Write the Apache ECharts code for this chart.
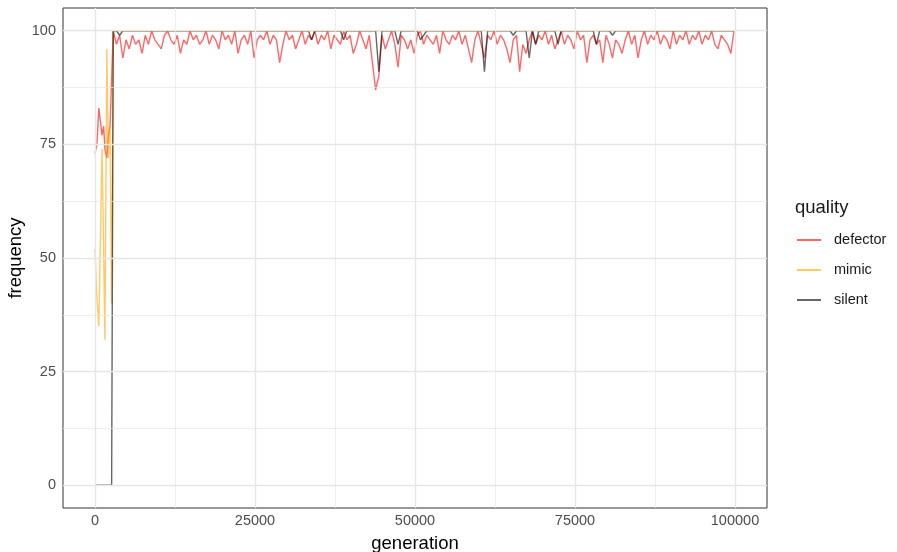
<!DOCTYPE html>
<html>
<head>
<meta charset="utf-8">
<script src="https://cdn.jsdelivr.net/npm/echarts@6.0.0/dist/echarts.min.js"></script>
<style>
html,body{margin:0;padding:0;background:#fff;}
#chart{width:897px;height:552px;}
</style>
</head>
<body>
<div id="chart"></div>
<script>
//数据
var qualities = ["defector", "mimic", "silent"];
var colors = ["rgba(255,0,0,0.6)", "rgba(255,165,0,0.6)", "rgba(0,0,0,0.6)"];

// first few samples, before everything hits 100
var earlyGen = [0, 300, 600, 1100, 1350, 1550, 1850, 2100, 2350, 2600];
var defectorEarly = [73, 75, 83, 77, 79, 74, 72, 77, 79, 79];
var mimicEarly = [52, 41, 35, 74, 52, 32, 96, 72, 79, 40];
var silentEarly = [0, 0, 0, 0, 0, 0, 0, 0, 0, 0];

// then one sample every 500 generations
var genStart = 2850;
var genStep = 500;
var defectorMain = [
	100, 97, 99, 94, 98, 96, 99, 97, 98, 95,
	99, 97, 100, 98, 97, 96, 99, 100, 98, 97,
	99, 95, 98, 97, 100, 98, 99, 97, 98, 100,
	97, 99, 98, 96, 100, 98, 99, 97, 100, 95,
	98, 99, 97, 100, 94, 98, 99, 98, 100, 97,
	99, 98, 93, 97, 100, 98, 99, 96, 98, 100,
	97, 99, 98, 100, 97, 99, 98, 100, 96, 99,
	98, 97, 100, 98, 99, 95, 97, 100, 98, 96,
	99, 93, 87, 90, 99, 96, 98, 100, 97, 92,
	99, 98, 96, 98, 95, 99, 100, 97, 99, 98,
	97, 99, 95, 100, 98, 97, 99, 98, 100, 97,
	99, 96, 93, 98, 100, 97, 94, 99, 98, 100,
	97, 99, 98, 96, 93, 98, 99, 91, 97, 95,
	98, 100, 97, 99, 98, 100, 97, 99, 96, 98,
	100, 97, 99, 98, 96, 100, 98, 99, 93, 98,
	99, 97, 98, 93, 99, 97, 94, 98, 97, 95,
	98, 100, 97, 99, 94, 98, 100, 97, 99, 98,
	100, 97, 99, 98, 96, 100, 97, 99, 98, 100,
	97, 99, 98, 100, 97, 99, 98, 100, 97, 96,
	99, 98, 97, 95, 100
];
var mimicMain = [
	100, 100, 100, 100, 100, 100, 100, 100, 100, 100,
	100, 100, 100, 100, 100, 100, 100, 100, 100, 100,
	100, 100, 100, 100, 100, 100, 100, 100, 100, 100,
	100, 100, 100, 100, 100, 100, 100, 100, 100, 100,
	100, 100, 100, 100, 100, 100, 100, 100, 100, 100,
	100, 100, 100, 100, 100, 100, 100, 100, 100, 100,
	100, 100, 100, 100, 100, 100, 100, 100, 100, 100,
	100, 100, 100, 100, 100, 100, 100, 100, 100, 100,
	100, 100, 100, 100, 100, 100, 100, 100, 100, 100,
	100, 100, 100, 100, 100, 100, 100, 100, 100, 100,
	100, 100, 100, 100, 100, 100, 100, 100, 100, 100,
	100, 100, 100, 100, 100, 100, 100, 100, 100, 100,
	100, 100, 100, 100, 100, 100, 100, 100, 100, 100,
	100, 100, 100, 100, 100, 100, 100, 100, 100, 100,
	100, 100, 100, 100, 100, 100, 100, 100, 100, 100,
	100, 100, 100, 100, 100, 100, 100, 100, 100, 100,
	100, 100, 100, 100, 100, 100, 100, 100, 100, 100,
	100, 100, 100, 100, 100, 100, 100, 100, 100, 100,
	100, 100, 100, 100, 100, 100, 100, 100, 100, 100,
	100, 100, 100, 100, 100
];
var silentMain = [
	100, 100, 99, 100, 100, 100, 100, 100, 100, 100,
	100, 100, 100, 100, 100, 100, 100, 100, 100, 100,
	100, 100, 100, 100, 100, 100, 100, 100, 100, 100,
	100, 100, 100, 100, 100, 100, 100, 100, 100, 100,
	100, 100, 100, 100, 100, 100, 100, 100, 100, 100,
	100, 100, 100, 100, 100, 100, 100, 100, 100, 100,
	100, 100, 98, 100, 100, 100, 100, 100, 100, 100,
	100, 100, 98, 100, 100, 100, 100, 100, 100, 100,
	100, 100, 100, 91, 100, 100, 100, 100, 100, 97,
	100, 100, 100, 100, 100, 100, 98, 99, 100, 100,
	100, 100, 100, 100, 100, 100, 100, 100, 100, 100,
	100, 100, 100, 100, 100, 100, 91, 100, 100, 100,
	100, 100, 100, 100, 100, 99, 100, 100, 100, 100,
	94, 100, 97, 100, 100, 100, 100, 100, 100, 97,
	100, 100, 100, 100, 100, 100, 100, 100, 100, 100,
	100, 97, 100, 100, 100, 100, 99, 100, 100, 100,
	100, 100, 100, 100, 100, 100, 100, 100, 100, 100,
	100, 100, 100, 100, 100, 100, 100, 100, 100, 100,
	100, 100, 100, 100, 100, 100, 100, 100, 100, 100,
	100, 100, 100, 100, 100
];

var xTicks = [0, 25000, 50000, 75000, 100000];
var xMinor = [12500, 37500, 62500, 87500];
var yTicks = [0, 25, 50, 75, 100];
var yMinor = [12.5, 37.5, 62.5, 87.5];

function buildSeries(early, main) {
	var out = [];
	for (var i = 0; i < early.length; i++) {
		out.push([earlyGen[i], early[i]]);
	}
	for (var j = 0; j < main.length; j++) {
		out.push([genStart + j * genStep, main[j]]);
	}
	return out;
}
var seriesData = [
	buildSeries(defectorEarly, defectorMain),
	buildSeries(mimicEarly, mimicMain),
	buildSeries(silentEarly, silentMain)
];

//网格线
var gridLines = [];
for (var a = 0; a < xMinor.length; a++) gridLines.push({xAxis: xMinor[a], lineStyle: {width: 0.7}});
for (var b = 0; b < yMinor.length; b++) gridLines.push({yAxis: yMinor[b], lineStyle: {width: 0.7}});
for (var c = 0; c < xTicks.length; c++) gridLines.push({xAxis: xTicks[c], lineStyle: {width: 1.4}});
for (var d = 0; d < yTicks.length; d++) gridLines.push({yAxis: yTicks[d], lineStyle: {width: 1.4}});

var font = "'Liberation Sans', Arial, Helvetica, sans-serif";
var series = [{
	name: "grid",
	type: "line",
	data: [],
	silent: true,
	z: 0,
	markLine: {
		silent: true,
		symbol: "none",
		animation: false,
		label: {show: false},
		lineStyle: {color: "#E6E6E6", type: "solid"},
		data: gridLines
	}
}];
for (var k = 0; k < qualities.length; k++) {
	series.push({
		name: qualities[k],
		type: "line",
		data: seriesData[k],
		showSymbol: false,
		symbol: "none",
		z: 2,
		itemStyle: {color: colors[k]},
		lineStyle: {color: colors[k], width: 1.4}
	});
}

function plainNum(v) {
	return String(v);
}

var chart = echarts.init(document.getElementById("chart"));
chart.setOption({
	animation: false,
	backgroundColor: "#fff",
	title: {
		text: "quality",
		left: 795,
		top: 198,
		padding: 0,
		textStyle: {fontFamily: font, fontSize: 18.5, fontWeight: "normal", color: "#1a1a1a"}
	},
	legend: {
		data: qualities,
		orient: "vertical",
		left: 797,
		top: 231,
		padding: 0,
		itemGap: 12,
		itemWidth: 24,
		itemHeight: 2,
		icon: "rect",
		textStyle: {fontFamily: font, fontSize: 14.5, color: "#1a1a1a", lineHeight: 18, padding: [0, 0, 0, 8]}
	},
	grid: {
		left: 63,
		top: 8,
		width: 704,
		height: 500,
		outerBoundsMode: "none",
		containLabel: false,
		show: true,
		borderColor: "#333",
		borderWidth: 1,
		backgroundColor: "#fff"
	},
	xAxis: {
		type: "value",
		min: -5000,
		max: 105000,
		name: "generation",
		nameLocation: "middle",
		nameGap: 26,
		nameMoveOverlap: false,
		nameTextStyle: {fontFamily: font, fontSize: 18.5, color: "#000"},
		axisLine: {show: false},
		splitLine: {show: false},
		axisTick: {show: true, length: 4, customValues: xTicks, lineStyle: {color: "#333"}},
		axisLabel: {customValues: xTicks, formatter: plainNum, margin: 5, fontFamily: font, fontSize: 14.5, color: "#4d4d4d"}
	},
	yAxis: {
		type: "value",
		min: -5,
		max: 105,
		name: "frequency",
		nameLocation: "middle",
		nameGap: 38,
		nameMoveOverlap: false,
		nameRotate: 90,
		nameTextStyle: {fontFamily: font, fontSize: 18.5, color: "#000"},
		axisLine: {show: false},
		splitLine: {show: false},
		axisTick: {show: true, length: 4, customValues: yTicks, lineStyle: {color: "#333"}},
		axisLabel: {customValues: yTicks, formatter: plainNum, margin: 7, fontFamily: font, fontSize: 14.5, color: "#4d4d4d"}
	},
	series: series
});
</script>
</body>
</html>
